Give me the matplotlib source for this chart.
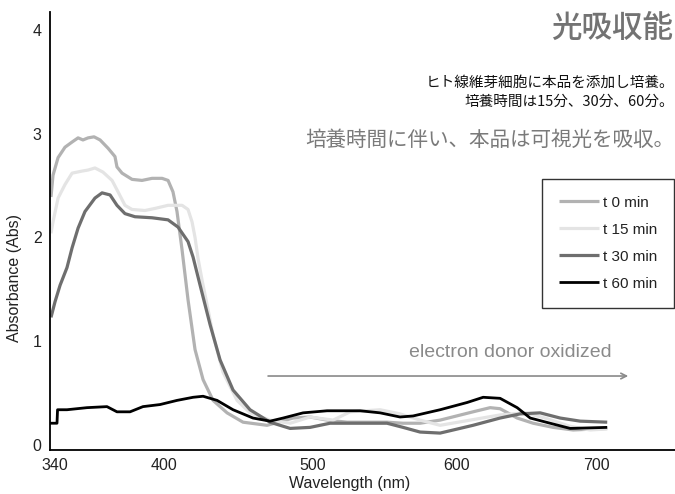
import numpy as np
import matplotlib
matplotlib.use('Agg')
import matplotlib.pyplot as plt

# wavelength (nm) / absorbance
t0_nm = [337.8, 338.9, 341.7, 345.5, 349.4, 352.7, 355.4, 358.2, 361.5, 364.8, 369.2, 373.0,
         374.1, 376.9, 382.4, 387.9, 393.4, 398.9, 402.7, 406.0, 408.7, 412.1, 416.1, 420.8,
         426.2, 432.9, 442.3, 453.0, 469.1, 486.6, 498.0, 509.8, 523.8, 551.7, 562.9, 574.8,
         588.8, 612.1, 624.3, 631.4, 643.6, 655.0, 669.3, 683.6, 707.9]
t0_abs = [2.39, 2.60, 2.77, 2.87, 2.92, 2.96, 2.94, 2.96, 2.97, 2.94, 2.86, 2.78,
          2.68, 2.62, 2.56, 2.55, 2.57, 2.57, 2.55, 2.44, 2.25, 1.88, 1.40, 0.92,
          0.63, 0.43, 0.31, 0.22, 0.19, 0.26, 0.27, 0.24, 0.22, 0.22, 0.21, 0.21,
          0.24, 0.32, 0.36, 0.35, 0.26, 0.21, 0.17, 0.145, 0.16]

t15_nm = [337.8, 338.9, 341.7, 345.5, 349.4, 354.9, 358.2, 362.0, 366.4, 371.4, 374.7, 378.5,
          382.4, 389.5, 395.0, 402.7, 412.1, 416.1, 418.8, 420.8, 422.8, 425.5, 428.9, 432.9,
          439.6, 449.0, 457.7, 471.1, 484.6, 498.0, 514.0, 525.9, 546.9, 560.8, 574.8, 588.8,
          610.0, 631.4, 649.3, 663.6, 681.4, 695.7, 707.9]
t15_abs = [2.04, 2.15, 2.38, 2.51, 2.62, 2.64, 2.65, 2.67, 2.63, 2.55, 2.44, 2.31,
           2.27, 2.26, 2.28, 2.31, 2.31, 2.27, 2.15, 2.00, 1.80, 1.59, 1.35, 1.06,
           0.70, 0.43, 0.31, 0.24, 0.21, 0.27, 0.24, 0.32, 0.34, 0.30, 0.24, 0.19,
           0.24, 0.29, 0.31, 0.26, 0.18, 0.145, 0.155]

t30_nm = [337.8, 340.0, 342.8, 346.6, 349.4, 352.7, 356.5, 362.0, 365.9, 370.3, 374.1, 378.5,
          384.0, 393.4, 402.7, 409.4, 416.1, 419.5, 424.2, 430.9, 437.6, 446.3, 457.7, 471.1,
          484.6, 498.0, 511.9, 532.9, 551.7, 562.9, 574.8, 588.8, 612.1, 631.4, 645.7, 660.0,
          674.3, 688.6, 707.9]
t30_abs = [1.23, 1.38, 1.54, 1.71, 1.90, 2.09, 2.25, 2.38, 2.43, 2.41, 2.31, 2.23,
           2.20, 2.19, 2.17, 2.10, 1.96, 1.81, 1.54, 1.16, 0.82, 0.53, 0.34, 0.22,
           0.16, 0.17, 0.21, 0.21, 0.21, 0.17, 0.125, 0.115, 0.19, 0.26, 0.30, 0.31,
           0.26, 0.23, 0.22]

t60_nm = [337.2, 341.1, 341.4, 346.6, 357.6, 368.6, 374.1, 381.3, 388.4, 397.8, 408.7, 419.5,
          426.2, 435.6, 446.3, 459.7, 471.1, 479.9, 493.3, 509.8, 532.9, 546.9, 560.8, 569.9,
          588.8, 607.9, 619.3, 631.4, 643.6, 652.9, 667.1, 681.4, 707.9]
t60_abs = [0.21, 0.21, 0.34, 0.34, 0.36, 0.37, 0.32, 0.32, 0.37, 0.39, 0.43, 0.46,
           0.47, 0.43, 0.34, 0.26, 0.23, 0.26, 0.31, 0.33, 0.33, 0.31, 0.27, 0.28,
           0.34, 0.41, 0.46, 0.45, 0.36, 0.26, 0.21, 0.16, 0.17]

series_labels = ['t 0 min', 't 15 min', 't 30 min', 't 60 min']
series_colors = ['#b2b2b2', '#e4e4e4', '#6e6e6e', '#000000']

x_ticks = [340, 400, 500, 600, 700]
y_ticks = [0, 1, 2, 3, 4]

# the printed wavelength axis is not evenly spaced: tick -> position on the page
scale_nm = [300, 340, 400, 500, 600, 700, 800]
scale_pos = [-17.7, 55, 164, 313, 456, 596, 736]


def fwd(x):
    return np.interp(x, scale_nm, scale_pos)


def inv(p):
    return np.interp(p, scale_pos, scale_nm)


plt.rcParams['font.family'] = ['Liberation Sans', 'Noto Sans CJK JP']
jp = ['Noto Sans CJK JP', 'Liberation Sans']

W, H = 675, 494
fig = plt.figure(figsize=(W / 100, H / 100), dpi=100)
ax = fig.add_axes([50 / W, 1 - 450 / H, (W - 50) / W, (450 - 12) / H])
ax.set_xscale('function', functions=(fwd, inv))

xs = [t0_nm, t15_nm, t30_nm, t60_nm]
ys = [t0_abs, t15_abs, t30_abs, t60_abs]
widths = [2.3, 2.3, 2.3, 2.0]
for x, y, lab, c, lw in zip(xs, ys, series_labels, series_colors, widths):
    ax.plot(x, y, color=c, lw=lw, label=lab, solid_joinstyle='round', solid_capstyle='butt')

ax.set_xlim(337.25, 756.3)
ax.set_ylim(-0.048, 4.173)
ax.set_xticks(x_ticks)
ax.set_xticklabels([str(v) for v in x_ticks])
ax.minorticks_off()
ax.set_yticks(y_ticks)
ax.tick_params(length=0, labelsize=11.5, colors='#222222')
ax.tick_params(axis='x', pad=6)
ax.tick_params(axis='y', pad=6)
for s in ['top', 'right']:
    ax.spines[s].set_visible(False)
for s in ['left', 'bottom']:
    ax.spines[s].set_linewidth(1.3)
    ax.spines[s].set_color('black')

fig.text(15 / W, 1 - 278 / H, 'Absorbance (Abs)', rotation=90, ha='center', va='center',
         fontsize=11.5, color='#222222')
fig.text(350 / W, 1 - 483 / H, 'Wavelength (nm)', ha='center', va='center',
         fontsize=11.5, color='#222222')

leg = ax.legend(loc='upper right', bbox_to_anchor=(674.5 / W, 1 - 179 / H),
                bbox_transform=fig.transFigure, fontsize=11, frameon=True,
                fancybox=False, borderpad=1.1, labelspacing=0.85, handlelength=2.6,
                handletextpad=0.3, borderaxespad=0)
leg.get_frame().set_edgecolor('black')
leg.get_frame().set_linewidth(1.0)
for t in leg.get_texts():
    t.set_color('#222222')

# arrow + note
ax.annotate('', xy=(722.9, 0.665), xytext=(469.8, 0.665),
            arrowprops=dict(arrowstyle='->', color='#8a8a8a', lw=1.2,
                            mutation_scale=10, shrinkA=0, shrinkB=0))
ax.text(638.6, 0.89, 'electron donor oxidized', ha='center', va='center',
        fontsize=14, color='#8a8a8a')

# headings
fig.text(673 / W, 1 - 28 / H, '光吸収能', ha='right', va='center', fontsize=22,
         color='#737373', family=jp, fontweight='medium')
fig.text(674 / W, 1 - 83 / H, 'ヒト線維芽細胞に本品を添加し培養。', ha='right', va='center',
         fontsize=10.5, color='#111111', family=jp)
fig.text(674 / W, 1 - 102 / H, '培養時間は15分、30分、60分。', ha='right', va='center',
         fontsize=10.5, color='#111111', family=jp)
fig.text(674 / W, 1 - 140 / H, '培養時間に伴い、本品は可視光を吸収。', ha='right', va='center',
         fontsize=14.8, color='#7a7a7a', family=jp)

fig.savefig('out.png', dpi=100)
